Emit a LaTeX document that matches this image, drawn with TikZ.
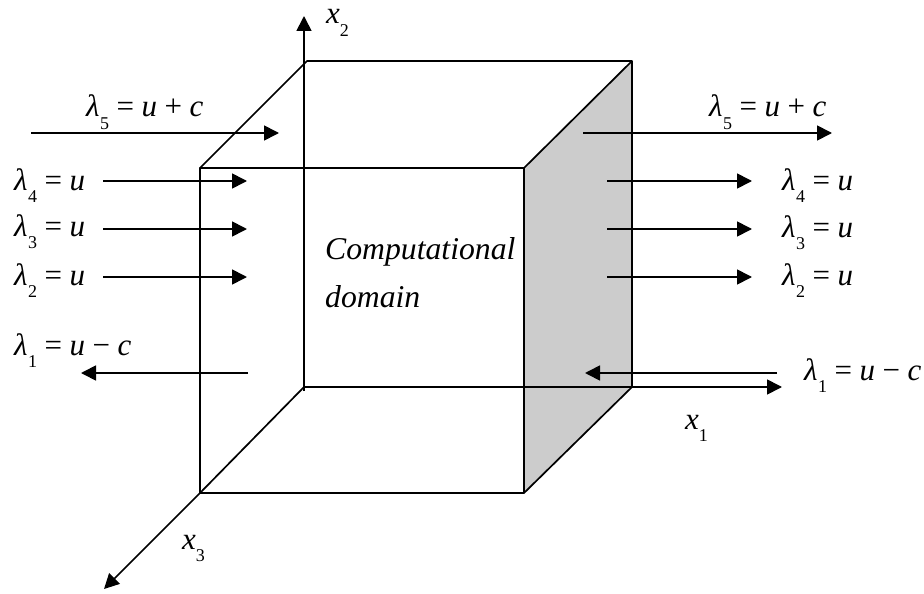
\documentclass[tikz,border=0pt]{standalone}
\usepackage{fontspec}
\setmainfont{Liberation Serif}
\usetikzlibrary{arrows.meta}
\newcommand{\sbn}[1]{\raisebox{-0.4em}{\fontsize{18}{18}\selectfont\upshape #1}}
\newcommand{\lamb}[1]{\textit{λ}\kern0.5pt\sbn{#1}}
\newcommand{\opr}[1]{\kern7.5pt{\upshape #1}\kern7.5pt}
\tikzset{
  edge/.style={line width=1.7pt,line join=round},
  flow/.style={line width=1.7pt,-{Triangle[length=15pt,width=15pt]}},
  lab/.style={anchor=base west,inner sep=0pt,font=\fontsize{31}{31}\selectfont\itshape},
}
\begin{document}
\begin{tikzpicture}[x=1pt,y=-1pt]
\useasboundingbox (0,0) rectangle (924,594);
% cube corners
\coordinate (fTL) at (200,168);
\coordinate (fTR) at (524,168);
\coordinate (fBR) at (524,493);
\coordinate (fBL) at (200,493);
\coordinate (bTL) at (307,61);
\coordinate (bTR) at (632,61);
\coordinate (bBR) at (632,387);
\coordinate (bBL) at (304,387);
\coordinate (bBT) at (304,391);
\fill[black!20] (fTR) -- (bTR) -- (bBR) -- (fBR) -- cycle;
\draw[edge] (fTL) -- (fTR) -- (fBR) -- (fBL) -- cycle;
\draw[edge] (fTL) -- (bTL) -- (bTR) -- (bBR) -- (fBR);
\draw[edge] (fTR) -- (bTR);
\draw[edge] (bBL) -- (fBL);
% axes
\coordinate (ax2) at (304,16);
\coordinate (ax1) at (782,387);
\coordinate (ax3) at (104,589);
\draw[flow] (bBT) -- (ax2);
\draw[flow] (bBL) -- (ax1);
\draw[flow] (fBL) -- (ax3);
% flow arrow ends
\coordinate (l5a) at (31,133);  \coordinate (l5b) at (279,133);
\coordinate (l4a) at (103,181); \coordinate (l4b) at (247,181);
\coordinate (l3a) at (103,229); \coordinate (l3b) at (247,229);
\coordinate (l2a) at (103,277); \coordinate (l2b) at (247,277);
\coordinate (l1a) at (248,373); \coordinate (l1b) at (81,373);
\coordinate (r5a) at (583,133); \coordinate (r5b) at (832,133);
\coordinate (r4a) at (607,181); \coordinate (r4b) at (752,181);
\coordinate (r3a) at (607,229); \coordinate (r3b) at (752,229);
\coordinate (r2a) at (607,277); \coordinate (r2b) at (752,277);
\coordinate (r1a) at (777,373); \coordinate (r1b) at (585,373);
\foreach \p in {l5,l4,l3,l2,l1,r5,r4,r3,r2,r1} \draw[flow] (\p a) -- (\p b);
% labels
\node[lab] (tx2) at (326,24) {x\sbn{2}};
\node[lab] (tx1) at (685,429) {x\sbn{1}};
\node[lab] (tx3) at (182,549) {x\sbn{3}};
\node[lab,font=\fontsize{31.7}{31.7}\selectfont\itshape] (tc) at (325,259) {Computational};
\node[lab,font=\fontsize{31.7}{31.7}\selectfont\itshape] (td) at (325,307) {domain};
\node[lab] (a5) at (86,117) {\lamb{5}\opr{=}u\opr{+}c};
\node[lab] (a4) at (14,190) {\lamb{4}\opr{=}u};
\node[lab] (a3) at (14,236) {\lamb{3}\opr{=}u};
\node[lab] (a2) at (14,285) {\lamb{2}\opr{=}u};
\node[lab] (a1) at (14,355) {\lamb{1}\opr{=}u\opr{−}c};
\node[lab] (b5) at (709,117) {\lamb{5}\opr{=}u\opr{+}c};
\node[lab] (b4) at (782,190) {\lamb{4}\opr{=}u};
\node[lab] (b3) at (782,237) {\lamb{3}\opr{=}u};
\node[lab] (b2) at (782,285) {\lamb{2}\opr{=}u};
\node[lab] (b1) at (804,380) {\lamb{1}\opr{=}u\opr{−}c};
\end{tikzpicture}
\end{document}
